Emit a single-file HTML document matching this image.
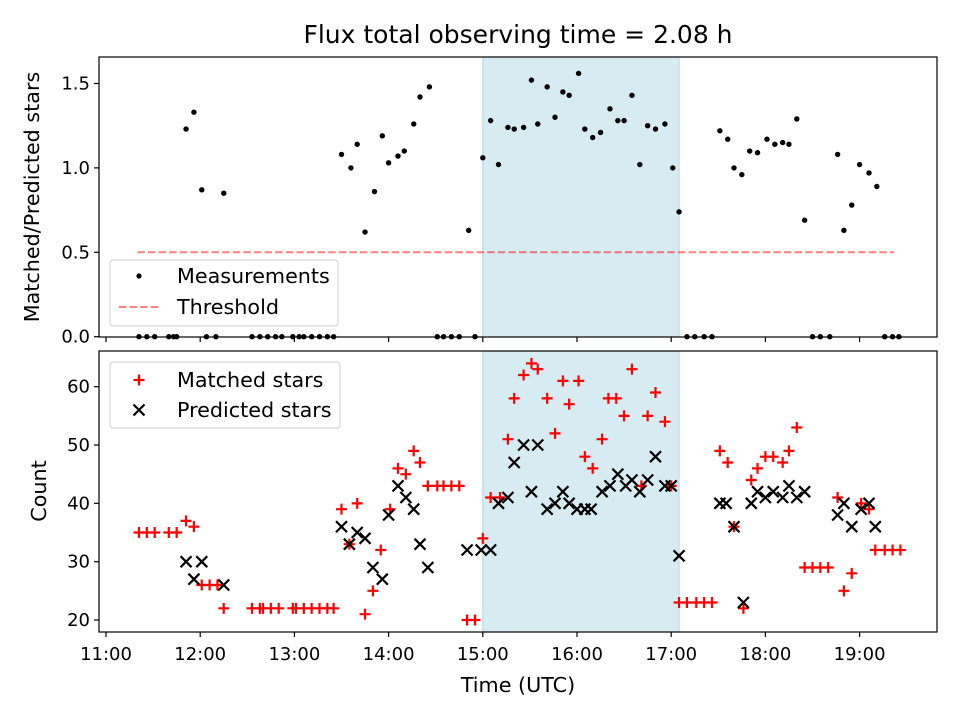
<!DOCTYPE html>
<html><head><meta charset="utf-8"><style>
body{margin:0;background:#fff;}
svg{display:block;font-family:"DejaVu Sans","Liberation Sans",sans-serif;}
</style></head><body>
<svg id="chart" width="960" height="720" viewBox="0 0 960 720">
<rect width="960" height="720" fill="#fff"/>
<text x="518" y="43" text-anchor="middle" font-size="25">Flux total observing time = 2.08 h</text>
<g id="topPanel"></g>
<g id="botPanel"></g>
<text x="39" y="197" transform="rotate(-90 39 197)" text-anchor="middle" font-size="20.7">Matched/Predicted stars</text>
<text x="46" y="491" transform="rotate(-90 46 491)" text-anchor="middle" font-size="20.7">Count</text>
<text x="518" y="692" text-anchor="middle" font-size="20.7">Time (UTC)</text>
<g>
<rect x="110" y="260" width="228" height="66" rx="3" fill="#fff" fill-opacity="0.8" stroke="#ccc"/>
<circle cx="139" cy="276" r="2.6" fill="#000"/>
<text x="177" y="283" font-size="20.7">Measurements</text>
<line x1="119" x2="160" y1="307" y2="307" stroke="#ff0000" stroke-opacity="0.5" stroke-width="2" stroke-dasharray="7.4,3.2"/>
<text x="177" y="314" font-size="20.7">Threshold</text>
</g>
<g>
<rect x="110" y="362" width="230" height="66" rx="3" fill="#fff" fill-opacity="0.8" stroke="#ccc"/>
<path d="M133.5,380H144.5M139,374.5V385.5" stroke="#ff0000" stroke-width="2.2"/>
<text x="177" y="387" font-size="20.7">Matched stars</text>
<path d="M133.5,404.5L144.5,415.5M133.5,415.5L144.5,404.5" stroke="#000" stroke-width="2.2"/>
<text x="177" y="417" font-size="20.7">Predicted stars</text>
</g>
</svg>
<script>
// minutes since 11:00 UTC
const ratioTimes=[51,56,61,75,150,156,160,165,171,176,180,186,190,196,200,206,231,240,245,250,256,260,266,271,275,281,286,291,295,301,305,310,315,321,326,330,335,340,345,350,356,361,365,391,396,400,405,410,415,421,426,431,435,440,445,466,470,475,480,486,491];
const ratioValues=[1.23,1.33,0.87,0.85,1.08,1.00,1.14,0.62,0.86,1.19,1.03,1.07,1.10,1.26,1.42,1.48,0.63,1.06,1.28,1.02,1.24,1.23,1.24,1.52,1.26,1.48,1.30,1.45,1.43,1.56,1.23,1.18,1.21,1.35,1.28,1.28,1.43,1.02,1.25,1.23,1.26,1.00,0.74,1.22,1.17,1.00,0.96,1.10,1.09,1.17,1.14,1.15,1.14,1.29,0.69,1.08,0.63,0.78,1.02,0.97,0.89];
const zeroTimes=[21,26,31,40,43,45,64,70,93,98,103,108,112,119,123,126,131,136,141,145,211,215,220,225,235,370,375,381,386,450,455,461,496,501,505];
const matchedTimes=[21,26,31,40,45,51,56,61,66,71,75,93,98,100,105,110,119,121,126,131,136,141,145,150,155,160,165,170,175,181,186,191,196,200,205,211,215,220,225,230,235,240,245,251,256,260,266,271,275,281,286,291,295,301,305,310,316,320,325,330,335,341,345,350,356,360,365,370,376,381,386,391,396,400,406,411,415,420,425,431,435,440,445,450,455,460,466,470,475,481,486,490,496,501,506];
const matchedValues=[35,35,35,35,35,37,36,26,26,26,22,22,22,22,22,22,22,22,22,22,22,22,22,39,33,40,21,25,32,39,46,45,49,47,43,43,43,43,43,20,20,34,41,41,51,58,62,64,63,58,52,61,57,61,48,46,51,58,58,55,63,43,55,59,54,43,23,23,23,23,23,49,47,36,22,44,46,48,48,47,49,53,29,29,29,29,41,25,28,40,39,32,32,32,32];
const predTimes=[51,56,61,75,150,155,160,165,170,176,180,186,191,196,200,205,230,239,245,250,256,260,266,271,275,281,286,291,295,300,305,309,316,321,326,331,335,340,345,350,356,360,365,391,395,400,406,411,415,420,425,431,435,440,445,466,470,475,481,486,490];
const predValues=[30,27,30,26,36,33,35,34,29,27,38,43,41,39,33,29,32,32,32,40,41,47,50,42,50,39,40,42,40,39,39,39,42,43,45,43,44,42,44,48,43,43,31,40,40,36,23,40,42,41,42,41,43,41,42,38,40,36,39,40,36];
const xTickLabels=["11:00","12:00","13:00","14:00","15:00","16:00","17:00","18:00","19:00"];
const topTicks=[0,0.5,1.0,1.5];
const botTicks=[20,30,40,50,60];
const shadeStart=240, shadeEnd=365, thrStart=20, thrEnd=502, threshold=0.5;

const NS="http://www.w3.org/2000/svg";
const L=99,R=937,T1=57,B1=337,T2=351,B2=632;
const xs=m=>106+m*94.2/60;
const y1=v=>336.7-v*168.8;
const y2=v=>620-(v-20)*5.833;
function mk(tag,at,parent){const e=document.createElementNS(NS,tag);for(const k in at)e.setAttribute(k,at[k]);parent.appendChild(e);return e;}
const gTop=document.getElementById('topPanel'),gBot=document.getElementById('botPanel');

function panel(g,T,B){
  const s=mk('rect',{x:xs(shadeStart),y:T,width:xs(shadeEnd)-xs(shadeStart),height:B-T,fill:'#add8e6','fill-opacity':0.5,stroke:'#add8e6','stroke-width':1},g);
  
  
}
panel(gTop,T1,B1);panel(gBot,T2,B2);

const th=mk('line',{x1:xs(thrStart),x2:xs(thrEnd),y1:y1(threshold),y2:y1(threshold),stroke:'#ff0000','stroke-opacity':0.5,'stroke-width':2,'stroke-dasharray':'7.4,3.2'},gTop);



ratioTimes.forEach((t,i)=>{
  const c=mk('circle',{cx:xs(t),cy:y1(ratioValues[i]),r:2.7,fill:'#000'},gTop);
  
  
});
zeroTimes.forEach(t=>{
  const c=mk('circle',{cx:xs(t),cy:y1(0),r:2.7,fill:'#000'},gTop);
  
  
});
function plus(g,x,y){return mk('path',{d:`M${x-5.5},${y}H${x+5.5}M${x},${y-5.5}V${y+5.5}`,stroke:'#ff0000','stroke-width':2.2},g);}
function cross(g,x,y){return mk('path',{d:`M${x-5.5},${y-5.5}L${x+5.5},${y+5.5}M${x-5.5},${y+5.5}L${x+5.5},${y-5.5}`,stroke:'#000','stroke-width':2.2},g);}
matchedTimes.forEach((t,i)=>{
  const p=plus(gBot,xs(t),y2(matchedValues[i]));
  
  
});
predTimes.forEach((t,i)=>{
  const p=cross(gBot,xs(t),y2(predValues[i]));
  
  
});

function frame(g,T,B,withLabels){
  mk('rect',{x:L,y:T,width:R-L,height:B-T,fill:'none',stroke:'#000','stroke-width':1.2},g);
  xTickLabels.forEach((lab,k)=>{
    const x=xs(k*60);
    mk('line',{x1:x,x2:x,y1:B,y2:B+5,stroke:'#000','stroke-width':1.2},g);
    if(withLabels){
      const t=mk('text',{x:x,y:B+28,'text-anchor':'middle','font-size':18},g);
      t.textContent=lab;
      
      
    }
  });
}
frame(gTop,T1,B1,false);frame(gBot,T2,B2,true);
topTicks.forEach(v=>{
  const y=y1(v);mk('line',{x1:L-5,x2:L,y1:y,y2:y,stroke:'#000','stroke-width':1.2},gTop);
  const t=mk('text',{x:L-9,y:y+6,'text-anchor':'end','font-size':18},gTop);
  t.textContent=v.toFixed(1);
  
  
});
botTicks.forEach(v=>{
  const y=y2(v);mk('line',{x1:L-5,x2:L,y1:y,y2:y,stroke:'#000','stroke-width':1.2},gBot);
  const t=mk('text',{x:L-9,y:y+6,'text-anchor':'end','font-size':18},gBot);
  t.textContent=v;
  
  
});
</script>
</body></html>
